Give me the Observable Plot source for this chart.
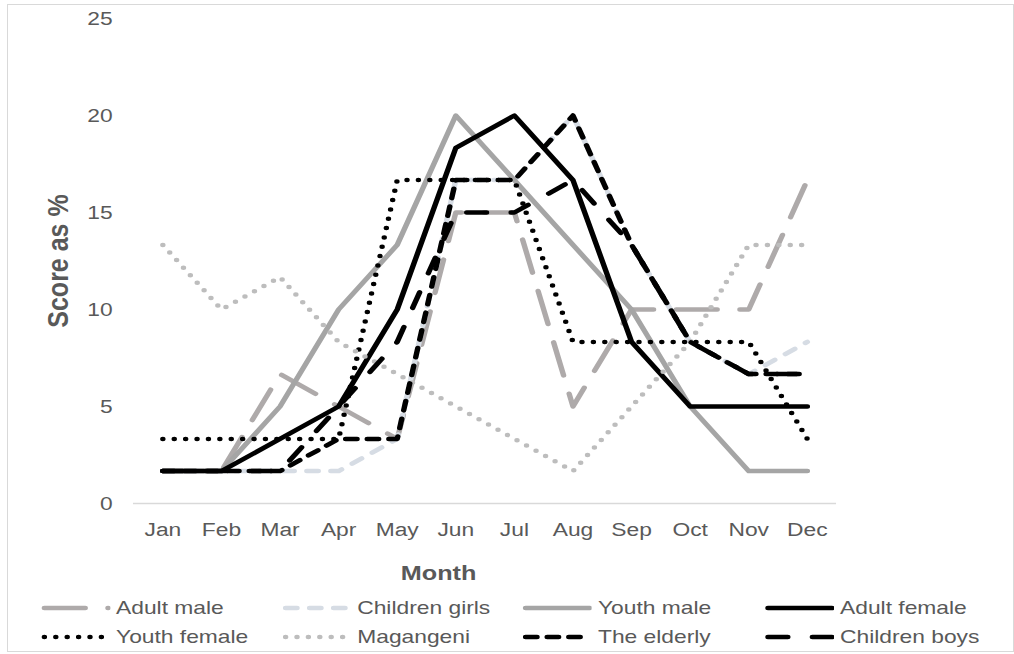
<!DOCTYPE html>
<html><head><meta charset="utf-8">
<script src="https://cdn.jsdelivr.net/npm/d3@7"></script>
<script src="https://cdn.jsdelivr.net/npm/@observablehq/plot@0.6"></script>
<style>
html,body{margin:0;padding:0;background:#fff;}
#page{position:relative;width:1014px;height:654px;overflow:hidden;font-family:"Liberation Sans",Arial,sans-serif;}
#stretch{position:absolute;left:0;top:0;width:845px;height:654px;transform:scaleX(1.2);transform-origin:0 0;}
#chart svg{display:block;}
#legend{position:absolute;left:0;top:0;width:845px;height:654px;}
.item{position:absolute;height:24px;display:flex;align-items:center;}
.item svg{display:block;flex:none;}
.item span{font-size:19px;color:#595959;white-space:nowrap;margin-left:5px;}
#frame{position:absolute;left:7px;top:4px;width:1007px;height:648px;border:1px solid #d9d9d9;box-sizing:border-box;pointer-events:none;}
</style>
</head><body>
<div id="page">
  <div id="stretch"><div id="chart"></div><div id="legend"></div></div>
  <div id="frame"></div>
</div>
<script>
// ---- data ----
const months = ["Jan","Feb","Mar","Apr","May","Jun","Jul","Aug","Sep","Oct","Nov","Dec"];
const yTicks = [0, 5, 10, 15, 20, 25];
const seriesNames = ["Adult male","Children girls","Youth male","Adult female","Youth female","Magangeni","The elderly","Children boys"];
const adultMale     = [1.67, 1.67, 6.67, 5, 3.33, 15, 15, 5, 10, 10, 10, 16.67];
const childrenGirls = [1.67, 1.67, 1.67, 1.67, 3.33, 16.67, 16.67, 20, 13.33, 8.33, 6.67, 8.33];
const youthMale     = [1.67, 1.67, 5, 10, 13.33, 20, 16.67, 13.33, 10, 5, 1.67, 1.67];
const adultFemale   = [1.67, 1.67, 3.33, 5, 10, 18.33, 20, 16.67, 8.33, 5, 5, 5];
const youthFemale   = [3.33, 3.33, 3.33, 3.33, 16.67, 16.67, 16.67, 8.33, 8.33, 8.33, 8.33, 3.33];
const magangeni     = [13.33, 10, 11.67, 8.33, 6.67, 5, 3.33, 1.67, 5, 8.33, 13.33, 13.33];
const theElderly    = [1.67, 1.67, 1.67, 3.33, 3.33, 16.67, 16.67, 20, 13.33, 8.33, 6.67, 6.67];
const childrenBoys  = [1.67, 1.67, 1.67, 5, 8.33, 15, 15, 16.67, 13.33, 8.33, 6.67, 6.67];
const seriesValues = [adultMale, childrenGirls, youthMale, adultFemale, youthFemale, magangeni, theElderly, childrenBoys];

// ---- styles (separate from data) ----
const styles = {
  "Adult male":     {stroke: "#aeaaaa", dash: "34,19"},
  "Children girls": {stroke: "#d6dce4", dash: "9.5,10.5"},
  "Youth male":     {stroke: "#a5a5a5", dash: null},
  "Adult female":   {stroke: "#000000", dash: null},
  "Youth female":   {stroke: "#000000", dash: "0,9.5"},
  "Magangeni":      {stroke: "#bdbdbd", dash: "0,9.5"},
  "The elderly":    {stroke: "#000000", dash: "9.5,8.5"},
  "Children boys":  {stroke: "#000000", dash: "16.5,20.5"}
};
const LW = 4.5;

const lineMarks = seriesNames.map((name, k) => {
  const rows = months.map((m, i) => ({month: m, value: seriesValues[k][i], series: name}));
  const st = styles[name];
  return Plot.line(rows, {
    x: "month", y: "value",
    stroke: st.stroke, strokeWidth: LW,
    strokeDasharray: st.dash || undefined,
    strokeLinecap: "round", strokeLinejoin: "round"
  });
});

const chart = Plot.plot({
  width: 845, height: 590,
  marginLeft: 110.8, marginRight: 148.3, marginTop: 18, marginBottom: 87,
  style: {fontFamily: "'Liberation Sans', Arial, sans-serif", fontSize: "19px", color: "#595959", background: "transparent", overflow: "visible"},
  x: {type: "point", domain: months, padding: 0.5, round: false, label: null},
  y: {domain: [0, 25], label: null},
  marks: [
    Plot.ruleY([0], {stroke: "#d9d9d9", strokeWidth: 1.3}),
    ...lineMarks,
    Plot.axisX({tickSize: 0, tickPadding: 19.5, label: null}),
    Plot.axisY({ticks: yTicks, tickSize: 0, tickPadding: 17.5, label: null}),
    Plot.text(["Month"], {frameAnchor: "bottom", dy: 70, dx: -38.75, fontWeight: "bold", fontSize: 21, lineAnchor: "middle", textAnchor: "middle"}),
    Plot.text(["Score as %"], {frameAnchor: "left", rotate: -90, dx: -62.5, fontWeight: "bold", fontSize: 25, lineAnchor: "middle", textAnchor: "middle"})
  ]
});
document.getElementById("chart").appendChild(chart);

// ---- legend ----
const legendCols = [33.7, 234.7, 435.3, 637];
const legendRows = [608, 637];
const legend = document.getElementById("legend");
seriesNames.forEach((name, k) => {
  const st = styles[name];
  const div = document.createElement("div");
  div.className = "item";
  div.style.left = legendCols[k % 4] + "px";
  div.style.top = (legendRows[Math.floor(k / 4)] - 12) + "px";
  const ns = "http://www.w3.org/2000/svg";
  const svg = document.createElementNS(ns, "svg");
  svg.setAttribute("width", 58); svg.setAttribute("height", 24);
  const ln = document.createElementNS(ns, "line");
  ln.setAttribute("x1", 3); ln.setAttribute("x2", 56.3);
  ln.setAttribute("y1", 12); ln.setAttribute("y2", 12);
  ln.setAttribute("stroke", st.stroke);
  ln.setAttribute("stroke-width", LW);
  ln.setAttribute("stroke-linecap", "round");
  if (st.dash) ln.setAttribute("stroke-dasharray", st.dash);
  svg.appendChild(ln);
  div.appendChild(svg);
  const sp = document.createElement("span");
  sp.textContent = name;
  div.appendChild(sp);
  legend.appendChild(div);
});
</script>
</body></html>
